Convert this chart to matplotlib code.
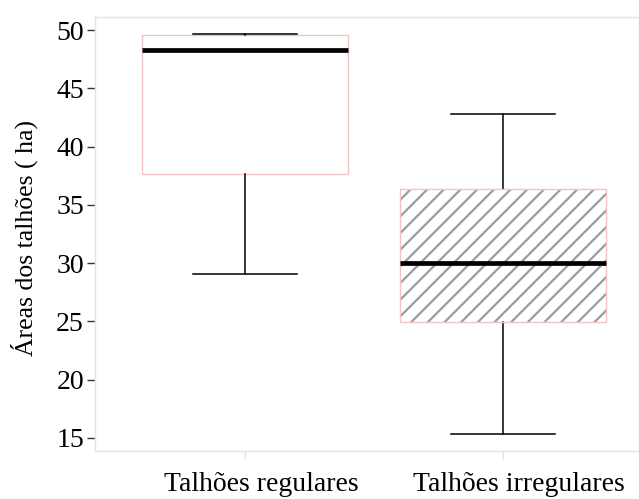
import matplotlib
matplotlib.use("Agg")
import matplotlib.pyplot as plt
import matplotlib.transforms as mtransforms
from matplotlib.patches import Rectangle

categories = ["Talhões regulares", "Talhões irregulares"]
whislo = [29.03, 15.34]
q1 = [37.67, 24.94]
med = [48.27, 30.03]
q3 = [49.55, 36.40]
whishi = [49.70, 42.76]
hatched = [False, True]
yticks = [15, 20, 25, 30, 35, 40, 45, 50]

plt.rcParams['font.family'] = ['Liberation Serif', 'DejaVu Serif']
plt.rcParams['hatch.linewidth'] = 1.6

fig = plt.figure(figsize=(6.39, 4.99), dpi=100)
ax = fig.add_axes([95/639, 48/499, 1 - 95/639, (451-17)/499])

positions = [1, 2]
width = 0.8
stats = []
for i in range(len(categories)):
    stats.append(dict(label=categories[i], whislo=whislo[i], q1=q1[i], med=med[i],
                      q3=q3[i], whishi=whishi[i], fliers=[]))

bp = ax.bxp(stats, positions=positions, widths=width, patch_artist=True, showfliers=False,
            boxprops=dict(edgecolor='#f2c4c4', facecolor='white', linewidth=1.0),
            medianprops=dict(color='black', linewidth=3.4, zorder=4),
            whiskerprops=dict(color='black', linewidth=1.1),
            capprops=dict(color='black', linewidth=1.1), capwidths=0.4)

for i in range(len(categories)):
    if hatched[i]:
        ax.add_patch(Rectangle((positions[i] - width/2, q1[i]), width, q3[i] - q1[i],
                               fill=False, hatch='//', edgecolor='#9c9c9c',
                               linewidth=0, zorder=2.5))
        bp['boxes'][i].set_zorder(3)
        bp['boxes'][i].set_facecolor('none')

ax.set_xlim(0.4186, 2.527)
ax.set_ylim(13.88, 51.12)
ax.set_yticks(yticks)
ax.set_yticklabels([str(v) for v in yticks])
ax.set_xticks(positions)
ax.set_xticklabels(categories)

for s in ['left', 'bottom', 'top', 'right']:
    ax.spines[s].set_color('#e3e3e3')
    ax.spines[s].set_linewidth(1.0)

ax.tick_params(axis='y', labelsize=20, length=6, width=1, color='#333333', pad=2)
ax.tick_params(axis='x', labelsize=20, length=6, width=1, color='#e3e3e3', pad=9)

shift = mtransforms.ScaledTranslation(16/100, 0, fig.dpi_scale_trans)
for lab in ax.get_xticklabels():
    lab.set_transform(lab.get_transform() + shift)

ax.set_ylabel("Áreas dos talhões ( ha)", fontsize=18.5)
ax.yaxis.set_label_coords(-0.105, 0.49)

fig.savefig("out.png", dpi=100)
